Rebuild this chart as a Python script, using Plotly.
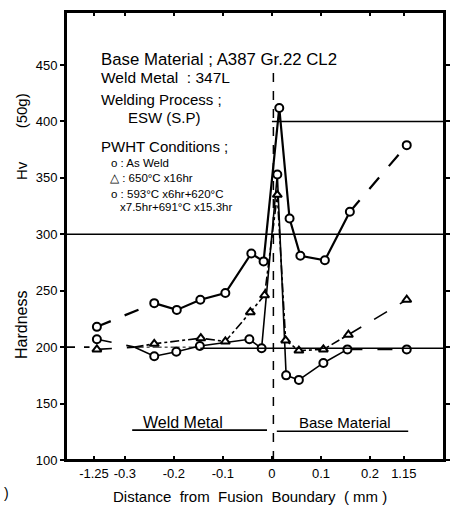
import plotly.graph_objects as go

# ---------------- data ----------------
# distance from fusion boundary, mm ; hardness Hv(50g)
x_as_weld = [-1.25, -0.24, -0.194, -0.146, -0.095, -0.042, -0.017, 0.015, 0.036, 0.058, 0.108, 0.159, 1.15]
hv_as_weld = [218, 239, 233, 242, 248, 283, 276, 412, 314, 281, 277, 320, 379]

x_650 = [-1.25, -0.28, -0.24, -0.145, -0.095, -0.044, -0.015, 0.011, 0.028, 0.055, 0.105, 0.156, 1.15]
hv_650 = [198, 200, 203, 208, 205, 231, 246, 335, 206, 197, 198, 211, 242]

x_step = [-1.25, -0.28, -0.24, -0.195, -0.147, -0.046, -0.021, 0.011, 0.029, 0.055, 0.105, 0.154, 1.15]
hv_step = [207, 200, 192, 196, 201, 207, 199, 353, 175, 171, 186, 198, 198]

tick_mm = [-1.25, -0.3, -0.2, -0.1, 0, 0.1, 0.2, 1.15]
tick_text = ["-1.25", "-0.3", "-0.2", "-0.1", "0", "0.1", "0.2", "1.15"]
y_ticks = [100, 150, 200, 250, 300, 350, 400, 450]

# broken axis: the far points are drawn just outside the -0.3 .. 0.2 window
BREAK_LEFT, BREAK_RIGHT = -0.357, 0.275        # where the far points sit
TICK_LEFT, TICK_RIGHT = -0.363, 0.269          # where their ticks sit


def pos(v, left=BREAK_LEFT, right=BREAK_RIGHT):
    if v < -0.3:
        return left
    if v > 0.2:
        return right
    return v


FONT = "Liberation Sans, Arial, sans-serif"
W, H = 455, 507
L, R, T, B = 66, 11, 12, 47
X_RANGE = [-0.42, 0.351]
Y_RANGE = [100, 497]
NB = "\u00a0"


def px(xp):
    return (xp - L) / (W - L - R)


def py(yp):
    return (H - B - yp) / (H - T - B)


fig = go.Figure()

def add_series(xs, ys, symbol, dash, width, junction_marker=True):
    P = [pos(v) for v in xs]
    # main (inside the window)
    fig.add_trace(go.Scatter(x=P[1:-1], y=ys[1:-1], mode="lines",
                             line=dict(color="black", width=width, dash=dash),
                             showlegend=False, hoverinfo="skip"))
    # segments across the axis breaks
    for a, b in ((0, 2), (-2, None)):
        fig.add_trace(go.Scatter(x=P[a:b], y=ys[a:b], mode="lines",
                                 line=dict(color="black", width=width, dash="longdash"),
                                 showlegend=False, hoverinfo="skip"))
    start = 1 if junction_marker else 2
    mx = [P[0]] + P[start:]
    my = [ys[0]] + ys[start:]
    fig.add_trace(go.Scatter(x=mx, y=my, mode="markers",
                             marker=dict(symbol=symbol, size=8, color="white",
                                         line=dict(color="black", width=2)),
                             showlegend=False, hoverinfo="skip"))


add_series(x_step, hv_step, "circle", "solid", 1.6, junction_marker=False)
add_series(x_650, hv_650, "triangle-up", "dashdot", 1.6, junction_marker=False)
add_series(x_as_weld, hv_as_weld, "circle", "solid", 2.2)

shapes = []
line_k = dict(color="black", width=1.6)
# horizontal guide lines
shapes.append(dict(type="line", xref="paper", yref="y", x0=0, x1=1, y0=300, y1=300, line=line_k))
shapes.append(dict(type="line", xref="x", yref="y", x0=0, x1=X_RANGE[1], y0=400, y1=400, line=line_k))
shapes.append(dict(type="line", xref="x", yref="y", x0=-0.146, x1=X_RANGE[1], y0=199, y1=199, line=line_k))
shapes.append(dict(type="line", xref="x", yref="y", x0=-0.28, x1=-0.146, y0=200, y1=200,
                   line=dict(color="black", width=1, dash="dashdot")))
shapes.append(dict(type="line", xref="x", yref="y", x0=X_RANGE[0], x1=-0.372, y0=200, y1=200,
                   line=dict(color="black", width=1.6, dash="dash")))
# fusion boundary
shapes.append(dict(type="line", xref="x", yref="y", x0=0.003, x1=0.003, y0=100, y1=447,
                   line=dict(color="black", width=1.5, dash="dash")))
# weld metal / base material bars
shapes.append(dict(type="line", xref="x", yref="y", x0=-0.285, x1=-0.01, y0=126.5, y1=126.5, line=line_k))
shapes.append(dict(type="line", xref="x", yref="y", x0=0.01, x1=0.278, y0=125.5, y1=125.5, line=line_k))
# plot frame
shapes.append(dict(type="rect", xref="paper", yref="paper", x0=0, x1=1, y0=0, y1=1,
                   line=dict(color="black", width=2)))

ann = []
def text(t, xp, yp, size, anchor="left", angle=0):
    ann.append(dict(text=t, xref="paper", yref="paper", x=px(xp), y=py(yp),
                    xanchor=anchor, yanchor="middle", showarrow=False, textangle=angle,
                    font=dict(family=FONT, size=size, color="black")))

text("Base Material ; A387 Gr.22 CL2", 99, 59, 16.8)
text("Weld Metal" + NB * 2 + ": 347L", 99, 77, 15.5)
text("Welding Process ;", 99, 100, 15)
text("ESW (S.P)", 126, 117, 15)
text("PWHT Conditions ;", 99, 146, 15)
text("o : As Weld", 109, 163, 11.5)
text("△ : 650°C x16hr", 108, 178, 11.5)
text("o : 593°C x6hr+620°C", 109, 194, 11.5)
text("x7.5hr+691°C x15.3hr", 118, 207, 11.5)
text("Weld Metal", 183, 422, 16, anchor="center")
text("Base Material", 345, 422, 15, anchor="center")
text("Hv" + NB * 8 + "(50g)", 22, 137, 15, anchor="center", angle=-90)
text("Hardness", 21, 325, 16, anchor="center", angle=-90)
text("Distance  from  Fusion  Boundary  ( mm )", 250, 496, 15, anchor="center")
text(")", 6, 493, 14, anchor="center")

fig.update_layout(
    width=W, height=H,
    margin=dict(l=L, r=R, t=T, b=B, autoexpand=False),
    paper_bgcolor="white", plot_bgcolor="white",
    font=dict(family=FONT, size=14, color="black"),
    shapes=shapes, annotations=ann,
    xaxis=dict(range=X_RANGE, tickmode="array",
               tickvals=[pos(v, TICK_LEFT, TICK_RIGHT) for v in tick_mm], ticktext=tick_text,
               tickangle=0, automargin=False,
               ticks="inside", ticklen=4, tickwidth=1.5, tickcolor="black",
               showline=True, linecolor="black", linewidth=2, mirror="ticks",
               showgrid=False, zeroline=False, tickfont=dict(size=13)),
    yaxis=dict(range=Y_RANGE, tickmode="array", tickvals=y_ticks, automargin=False,
               ticks="outside", ticklen=4, tickwidth=1.5, tickcolor="black",
               showline=True, linecolor="black", linewidth=2, mirror="ticks",
               showgrid=False, zeroline=False, tickfont=dict(size=13)),
)

fig.write_html("out.html", config={"displayModeBar": False},
               post_script="document.body.style.margin='0';document.body.style.overflow='hidden';")
